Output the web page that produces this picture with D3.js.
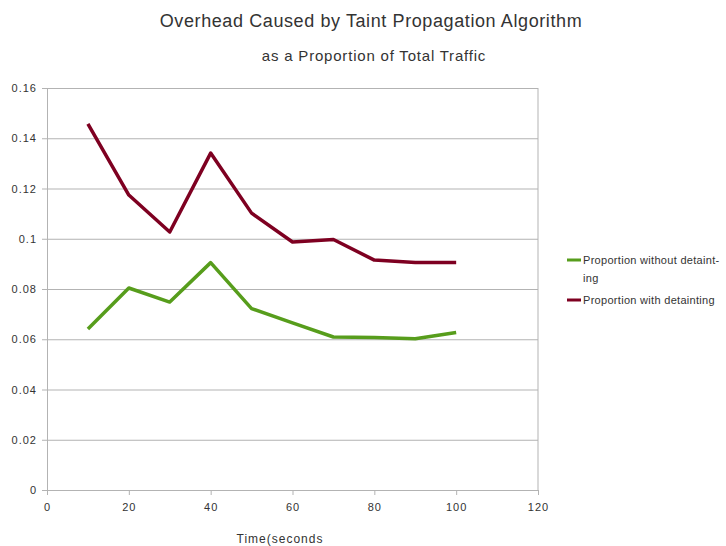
<!DOCTYPE html>
<html>
<head>
<meta charset="utf-8">
<script src="https://cdn.jsdelivr.net/npm/d3@7"></script>
<style>
  body { margin: 0; background: #fff; }
  text { font-family: "Liberation Sans", Arial, sans-serif; fill: #333; }
  .grid line { stroke: #b3b3b3; }
  .grid path { display: none; }
</style>
</head>
<body>
<div id="chart"></div>
<script>
const WIDTH = 726;
const HEIGHT = 546;

const times = [10, 20, 30, 40, 50, 60, 70, 80, 90, 100];
const withoutDetainting = [0.0641, 0.0804, 0.0748, 0.0905, 0.0722, 0.0665, 0.0609, 0.0607, 0.0602, 0.0627];
const withDetainting = [0.1457, 0.1174, 0.1027, 0.1341, 0.1102, 0.0987, 0.0997, 0.0915, 0.0905, 0.0905];
const xTicks = [0, 20, 40, 60, 80, 100, 120];
const yTicks = [0, 0.02, 0.04, 0.06, 0.08, 0.1, 0.12, 0.14, 0.16];

const seriesList = [
  { name: "Proportion without detaint-", name2: "ing", color: "#579d1c", values: withoutDetainting },
  { name: "Proportion with detainting", color: "#7e0021", values: withDetainting },
];

const margin = { left: 47, right: 188, top: 88, bottom: 56 };

const svg = d3.select("#chart").append("svg").attr("width", WIDTH).attr("height", HEIGHT);

const x = d3.scaleLinear().domain([0, 120]).range([margin.left, WIDTH - margin.right]);
const y = d3.scaleLinear().domain([0, 0.16]).range([HEIGHT - margin.bottom, margin.top]);

// horizontal gridlines
svg.append("g")
  .attr("class", "grid")
  .attr("transform", `translate(${margin.left},0)`)
  .call(d3.axisLeft(y).tickValues(yTicks).tickSize(-(x(120) - x(0))).tickFormat(""));

// right border
svg.append("line")
  .attr("x1", x(120)).attr("x2", x(120))
  .attr("y1", y(0.16)).attr("y2", y(0))
  .attr("stroke", "#b3b3b3");

const yAxis = svg.append("g")
  .attr("transform", `translate(${margin.left},0)`)
  .call(d3.axisLeft(y).tickValues(yTicks).tickSize(5).tickPadding(5).tickFormat(d3.format("~g")));
yAxis.select(".domain").attr("stroke", "#b3b3b3");
yAxis.selectAll(".tick line").attr("stroke", "#b3b3b3");
yAxis.selectAll("text").style("font-size", "11px").style("letter-spacing", "1px").attr("fill", "#333");

const xAxis = svg.append("g")
  .attr("transform", `translate(0,${y(0)})`)
  .call(d3.axisBottom(x).tickValues(xTicks).tickSize(5).tickPadding(8));
xAxis.select(".domain").attr("stroke", "#b3b3b3");
xAxis.selectAll(".tick line").attr("stroke", "#b3b3b3");
xAxis.selectAll("text").style("font-size", "11px").style("letter-spacing", "1px").attr("fill", "#333");

const line = d3.line().x((d, i) => x(times[i])).y((d) => y(d));

seriesList.forEach((s) => {
  svg.append("path")
    .datum(s.values)
    .attr("fill", "none")
    .attr("stroke", s.color)
    .attr("stroke-width", 3.5)
    .attr("stroke-linejoin", "round")
    .attr("d", line);
});

// titles
svg.append("text")
  .attr("x", 371).attr("y", 27)
  .attr("text-anchor", "middle")
  .style("font-size", "18px")
  .style("letter-spacing", "0.6px")
  .text("Overhead Caused by Taint Propagation Algorithm");

svg.append("text")
  .attr("x", 374).attr("y", 61)
  .attr("text-anchor", "middle")
  .style("font-size", "15px")
  .style("letter-spacing", "0.8px")
  .text("as a Proportion of Total Traffic");

svg.append("text")
  .attr("x", 280).attr("y", 543)
  .attr("text-anchor", "middle")
  .style("font-size", "12px")
  .style("letter-spacing", "1px")
  .text("Time(seconds");

// legend
const legend = svg.append("g").attr("transform", "translate(567,260)");
[0, 40].forEach((dy, i) => {
  const s = seriesList[i];
  const item = legend.append("g").attr("transform", `translate(0,${dy})`);
  item.append("line").attr("x1", 0).attr("x2", 14).attr("stroke", s.color).attr("stroke-width", 3);
  item.append("text").attr("x", 16).attr("y", 4).style("font-size", "11px").style("letter-spacing", "0.3px").text(s.name);
  if (s.name2) {
    item.append("text").attr("x", 16).attr("y", 22).style("font-size", "11px").style("letter-spacing", "0.3px").text(s.name2);
  }
});
</script>
</body>
</html>
